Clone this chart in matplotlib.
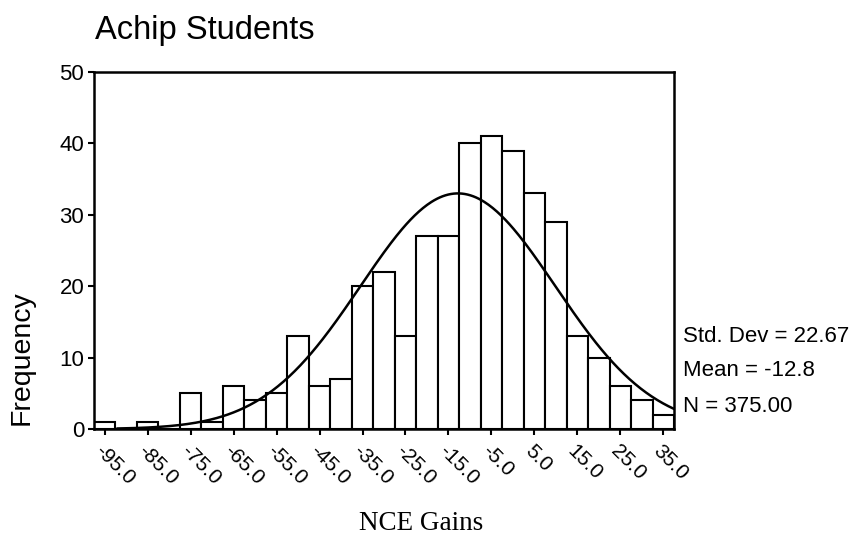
import numpy as np
import matplotlib
matplotlib.use("Agg")
import matplotlib.pyplot as plt

# ---- data ----
bin_centers = [-95, -90, -85, -80, -75, -70, -65, -60, -55, -50, -45, -40, -35,
               -30, -25, -20, -15, -10, -5, 0, 5, 10, 15, 20, 25, 30, 35]
counts = [1, 0, 1, 0, 5, 1, 6, 4, 5, 13, 6, 7, 20,
          22, 13, 27, 27, 40, 41, 39, 33, 29, 13, 10, 6, 4, 2]
x_ticks = [-95, -85, -75, -65, -55, -45, -35, -25, -15, -5, 5, 15, 25, 35]
x_tick_labels = ["-95.0", "-85.0", "-75.0", "-65.0", "-55.0", "-45.0", "-35.0",
                 "-25.0", "-15.0", "-5.0", "5.0", "15.0", "25.0", "35.0"]
y_ticks = [0, 10, 20, 30, 40, 50]
bin_width = 5
std_dev = 22.67
mean = -12.8
n_total = 375.00

W, H = 852, 547
fig = plt.figure(figsize=(W / 100, H / 100), dpi=100)
plt.rcParams['font.family'] = ['Liberation Sans', 'DejaVu Sans']

left, right, top, bottom = 94, 674, 72, 429
ax = fig.add_axes([left / W, 1 - bottom / H, (right - left) / W, (bottom - top) / H])

ax.bar(bin_centers, counts, width=bin_width, color='white', edgecolor='black',
       linewidth=1.5, zorder=2)

xs = np.linspace(-92, 37.5, 400)
ys = n_total * bin_width / (std_dev * np.sqrt(2 * np.pi)) * np.exp(-0.5 * ((xs - mean) / std_dev) ** 2)
ax.plot(xs, ys, color='black', linewidth=1.8, zorder=3)

ax.set_xlim(-97.5, 37.5)
ax.set_ylim(0, 50)
ax.set_yticks(y_ticks)
ax.set_yticklabels([str(v) for v in y_ticks], fontsize=16)
ax.set_xticks(x_ticks)
ax.set_xticklabels(x_tick_labels, fontsize=15, rotation=-45, ha='left', va='top',
                   rotation_mode='anchor')
ax.tick_params(axis='x', direction='out', length=4, width=1.5, pad=5)
ax.tick_params(axis='y', direction='out', length=4, width=1.5, pad=3)
for s in ax.spines.values():
    s.set_linewidth(1.8)
    s.set_color('black')

fig.text(95 / W, 1 - 30 / H, "Achip Students", fontsize=23.5, va='center', ha='left')
fig.text(22 / W, 1 - 358 / H, "Frequency", fontsize=20.5, rotation=90,
         va='center', ha='center')
fig.text(421 / W, 1 - 523 / H, "NCE Gains", fontsize=19.5, va='center', ha='center',
         family=['Liberation Serif', 'DejaVu Serif'])

stats = [f"Std. Dev = {std_dev:.2f}", f"Mean = {mean:.1f}", f"N = {n_total:.2f}"]
stat_y = [336, 371, 407]
for s, yy in zip(stats, stat_y):
    fig.text(683 / W, 1 - yy / H, s, fontsize=16, va='center', ha='left')

fig.savefig("out.png", dpi=100)
